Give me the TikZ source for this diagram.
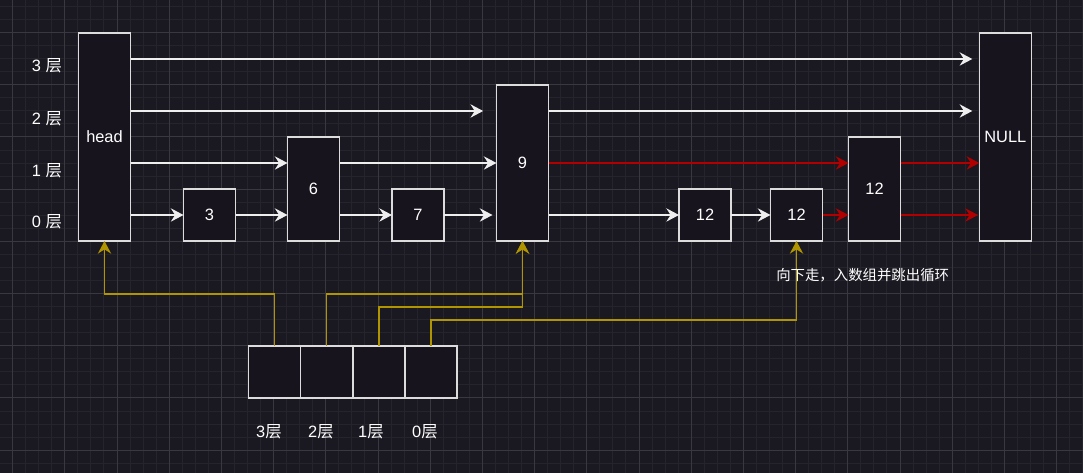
\documentclass[tikz,border=0pt]{standalone}
\usepackage{fontspec}
\setmainfont{Liberation Sans}
\newfontfamily\cjk{Noto Sans CJK SC}
\usetikzlibrary{arrows.meta}
\definecolor{bg}{HTML}{1A1820}
\definecolor{gridminor}{HTML}{25232C}
\definecolor{gridmajor}{HTML}{393740}
\definecolor{boxfill}{HTML}{17141D}
\definecolor{boxline}{HTML}{DCDCDC}
\definecolor{wline}{HTML}{EEEEEE}
\definecolor{rline}{HTML}{B20000}
\definecolor{yline}{HTML}{B09500}
\tikzset{
  box/.style={draw=boxline, fill=boxfill, line width=1.1pt, inner sep=0pt, outer sep=0pt,
    minimum width=39pt, text=white, font=\fontsize{12.3}{14}\selectfont},
  tip/.style={-{Stealth[length=9.5pt, width=10pt, inset=3.2pt]}},
  warr/.style={draw=wline, line width=1.1pt, tip},
  rarr/.style={draw=rline, line width=1.1pt, tip},
  yarr/.style={draw=yline, line width=1.1pt, tip},
  lbl/.style={text=white, font=\fontsize{12.3}{14}\selectfont, inner sep=0pt},
  note/.style={text=white, font=\cjk\fontsize{10.8}{12}\selectfont, inner sep=0pt}
}
\begin{document}
\begin{tikzpicture}[x=0.75pt,y=-0.75pt]
\useasboundingbox (0,0) rectangle (1083,473);
\fill[bg] (0,0) rectangle (1083,473);
% grid
\foreach \i in {0,...,83} {\draw[gridminor, line width=0.6pt] ({-0.55+13.05*\i},0) -- ({-0.55+13.05*\i},473);}
\foreach \j in {0,...,37} {\draw[gridminor, line width=0.6pt] (0,{-6.65+13.05*\j}) -- (1083,{-6.65+13.05*\j});}
\foreach \i in {0,...,20} {\draw[gridmajor, line width=0.6pt] ({12.5+52.2*\i},0) -- ({12.5+52.2*\i},473);}
\foreach \j in {-1,...,8} {\draw[gridmajor, line width=0.6pt] (0,{32.5+52.2*\j}) -- (1083,{32.5+52.2*\j});}

% level coordinates
\coordinate (L3) at (0,59);
\coordinate (L2) at (0,111);
\coordinate (L1) at (0,163);
\coordinate (L0) at (0,215);
\coordinate (Y1) at (0,294);
\coordinate (Y2) at (0,307);
\coordinate (Y3) at (0,320);

% side labels
\node[lbl] (s3) at (47,66) {3 {\cjk 层}};
\node[lbl] (s2) at (47,118.5) {2 {\cjk 层}};
\node[lbl] (s1) at (47,170.5) {1 {\cjk 层}};
\node[lbl] (s0) at (47,222) {0 {\cjk 层}};

% nodes
\node[box, minimum height=156pt] (head) at (104.5,137) {head};
\node[box, minimum height=39pt] (n3) at (209.5,215) {3};
\node[box, minimum height=78pt] (n6) at (313.5,189) {6};
\node[box, minimum height=39pt] (n7) at (418,215) {7};
\node[box, minimum height=117pt] (n9) at (522.5,163) {9};
\node[box, minimum height=39pt] (n12a) at (705,215) {12};
\node[box, minimum height=39pt] (n12b) at (796.5,215) {12};
\node[box, minimum height=78pt] (n12c) at (874.5,189) {12};
\node[box, minimum height=156pt] (null) at (1005.3,137) {NULL};

% white arrows
\draw[warr, shorten >=5.25pt] (head.east |- L3) -- (null.west |- L3);
\draw[warr, shorten >=10pt] (head.east |- L2) -- (n9.west |- L2);
\draw[warr, shorten >=5.25pt] (n9.east |- L2) -- (null.west |- L2);
\draw[warr] (head.east |- L1) -- (n6.west |- L1);
\draw[warr] (n6.east |- L1) -- (n9.west |- L1);
\draw[warr] (head.east |- L0) -- (n3.west);
\draw[warr] (n3.east) -- (n6.west |- L0);
\draw[warr] (n6.east |- L0) -- (n7.west);
\draw[warr, shorten >=3pt] (n7.east) -- (n9.west |- L0);
\draw[warr] (n9.east |- L0) -- (n12a.west);
\draw[warr] (n12a.east) -- (n12b.west);

% red arrows
\draw[rarr] (n9.east |- L1) -- (n12c.west |- L1);
\draw[rarr] (n12b.east) -- (n12c.west |- L0);
\draw[rarr] (n12c.east |- L1) -- (null.west |- L1);
\draw[rarr, shorten >=1pt] (n12c.east |- L0) -- (null.west |- L0);

% bottom array
\node[box, minimum height=39pt] (c3) at (274.4,372) {};
\node[box, minimum height=39pt] (c2) at (326.6,372) {};
\node[box, minimum height=39pt] (c1) at (378.8,372) {};
\node[box, minimum height=39pt] (c0) at (431,372) {};

\node[lbl] (b3) at (269,432) {3{\cjk 层}};
\node[lbl] (b2) at (321,432) {2{\cjk 层}};
\node[lbl] (b1) at (371,432) {1{\cjk 层}};
\node[lbl] (b0) at (425,432) {0{\cjk 层}};

% yellow connectors
\draw[yarr] (c3.north) -- (c3.north |- Y1) -- (head.south |- Y1) -- (head.south);
\draw[yarr] (c2.north) -- (c2.north |- Y1) -- (n9.south |- Y1) -- (n9.south);
\draw[yarr] (c1.north) -- (c1.north |- Y2) -- (n9.south |- Y2) -- (n9.south);
\draw[yarr] (c0.north) -- (c0.north |- Y3) -- (n12b.south |- Y3) -- (n12b.south);

% note
\node[note, anchor=west] (txt) at (776,275) {向下走，入数组并跳出循环};
\end{tikzpicture}
\end{document}
